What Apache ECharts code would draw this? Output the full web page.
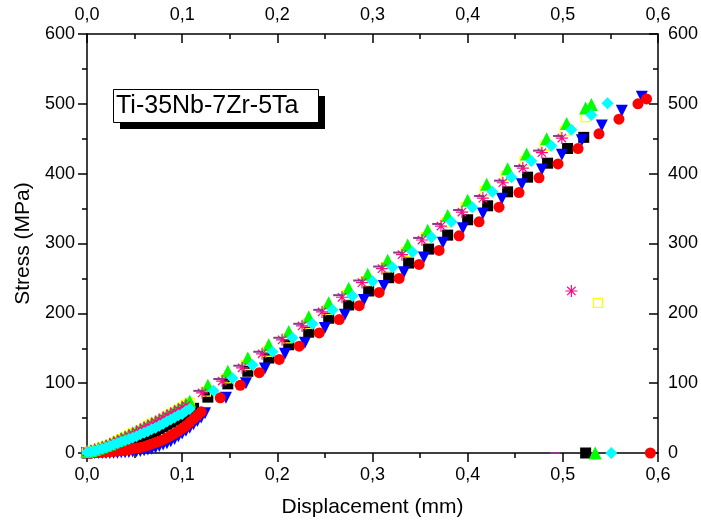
<!DOCTYPE html>
<html><head><meta charset="utf-8">
<script src="https://cdn.jsdelivr.net/npm/echarts@6/dist/echarts.min.js"></script>
<style>html,body{margin:0;padding:0;background:#fff}#c{width:701px;height:523px}</style>
</head><body><div id="c"></div>
<script>
// ---- data ----
const xTickLabels = ['0,0','0,1','0,2','0,3','0,4','0,5','0,6'];
const yTickLabels = ['0','100','200','300','400','500','600'];
const denseX = [0,0.004,0.008,0.012,0.016,0.020,0.024,0.028,0.032,0.036,0.040,0.044,0.048,0.052,0.056,0.060,0.064,0.068,0.072,0.076,0.080,0.084,0.088,0.092,0.096,0.100,0.104,0.108,0.112,0.116,0.120,0.124];

const blackDenseY = [0,1,1.5,2,3,4,6,7,9,11,13,15,17,19,22,24,27,29,32,35,38,41,44,47,50,53,56,60,64];
const blackSparse = [[0.127,80],[0.148,99],[0.169,117],[0.191,136],[0.212,155],[0.233,173],[0.254,193],[0.275,212],[0.296,232],[0.317,251],[0.338,272],[0.359,292],[0.379,312],[0.400,334],[0.421,354],[0.442,374],[0.463,395],[0.484,415],[0.505,436],[0.522,452]];
const blackFail = [[0.524,0]];

const redDenseY = [0,0,0.5,1,1,1.5,2,2.5,3,3.5,4,5,6,7,8,9,11,13,15,17,19,22,25,28,31,35,39,44,49,54,59];
const redSparse = [[0.140,79],[0.161,97],[0.181,115],[0.202,134],[0.223,153],[0.244,172],[0.265,191],[0.286,211],[0.307,230],[0.328,250],[0.349,270],[0.370,290],[0.391,311],[0.412,331],[0.433,352],[0.454,373],[0.475,394],[0.495,414],[0.516,436],[0.538,457],[0.559,478],[0.579,500],[0.588,507]];
const redFail = [[0.592,0]];

const blueDenseY = [0,0,0,0,0,0,0,0.5,0.5,1,1,1.5,2,2.5,3,4,5,6,8,10,12,14,17,20,24,28,32,36,41,46,51,57];
const blueSparse = [[0.146,79],[0.167,100],[0.187,121],[0.208,142],[0.229,158],[0.250,179],[0.271,198],[0.291,219],[0.312,239],[0.333,259],[0.354,280],[0.374,301],[0.395,322],[0.416,343],[0.436,364],[0.457,385],[0.478,406],[0.499,427],[0.520,448],[0.541,469],[0.562,490],[0.583,510]];

const greenDenseY = [2,3.5,5,7,9,11,13,16,18,21,23,26,29,31,34,37,40,43,45,48,51,54,57,60,63,66,70,74];
const greenSparse = [[0.127,97],[0.148,117],[0.169,136],[0.191,155],[0.212,174],[0.233,195],[0.254,215],[0.275,236],[0.295,256],[0.316,276],[0.337,298],[0.358,319],[0.379,340],[0.400,362],[0.420,385],[0.442,407],[0.462,428],[0.483,450],[0.504,472],[0.524,494],[0.530,499]];
const greenFail = [[0.534,0]];

const yellowDenseY = [1,3,4,6,8,10,12,15,17,20,22,25,28,30,33,36,39,42,44,47,50,53,56,59,62,65,69,72];
const yellowSparse = [[0.125,88],[0.146,107],[0.167,126],[0.189,145],[0.210,164],[0.231,185],[0.252,205],[0.273,226],[0.293,246],[0.314,266],[0.335,288],[0.356,309],[0.377,330],[0.398,352],[0.418,375],[0.440,397],[0.460,418],[0.481,440],[0.502,461],[0.524,481]];
const yellowFail = [[0.537,215]];

const magentaDenseY = [2,3,5,6,8,10,12,15,17,20,22,25,27,30,33,36,38,41,44,47,50,53,56,59,62,65,68];
const magentaSparse = [[0.121,86],[0.142,103],[0.163,122],[0.184,142],[0.205,162],[0.226,182],[0.247,202],[0.268,223],[0.289,244],[0.310,264],[0.331,284],[0.352,305],[0.372,325],[0.394,345],[0.416,365],[0.437,387],[0.458,408],[0.478,430],[0.499,451]];
const magentaFail = [[0.509,232]];

const purpleSparse = [[0.117,89],[0.138,106],[0.159,125],[0.180,145],[0.201,165],[0.222,185],[0.243,205],[0.264,226],[0.285,247],[0.306,267],[0.327,287],[0.348,308],[0.368,328],[0.390,348],[0.412,368],[0.433,390],[0.454,411],[0.474,433],[0.495,454]];
const purpleFail = [[0.492,0]];

const cyanDenseY = [1,2,3,5,6,8,10,12,14,16,18,20,22,24,27,29,31,34,36,39,42,45,48,51,54,56,60,63];
const cyanSparse = [[0.133,89],[0.153,107],[0.174,126],[0.195,145],[0.216,165],[0.237,185],[0.258,205],[0.279,225],[0.300,246],[0.321,266],[0.342,288],[0.362,309],[0.383,331],[0.405,352],[0.426,374],[0.446,395],[0.467,418],[0.488,440],[0.509,463],[0.530,484],[0.547,501]];
const cyanFail = [[0.551,0]];

// ---- build ----
function build(denseY, sparse, fail) {
  const d = (denseY || []).map((y, i) => [denseX[i], y]);
  return d.concat(sparse || [], fail || []);
}
const FONT = '"Liberation Sans", Arial, sans-serif';
const chart = echarts.init(document.getElementById('c'), null, {renderer: 'canvas'});
const axisLine = {show: true, onZero: false, lineStyle: {color: '#000', width: 1.5}};
const lbl = {color: '#000', fontSize: 18, fontFamily: FONT};
const star = 'path://M5,0L5,10M0,5L10,5M1.5,1.5L8.5,8.5M8.5,1.5L1.5,8.5';
function sc(name, data, symbol, size, style, extra) {
  return Object.assign({
    name, type: 'scatter', data, symbol, symbolSize: size,
    itemStyle: Object.assign({opacity: 1}, style), emphasis: {disabled: true}, animation: false,
    xAxisIndex: 0, yAxisIndex: 0
  }, extra || {});
}
chart.setOption({
  animation: false,
  grid: {left: 87, right: 42, top: 34, bottom: 70},
  xAxis: [
    {type: 'value', position: 'bottom', min: 0, max: 0.6, interval: 0.1,
     axisLine, splitLine: {show: false},
     axisTick: {show: true, inside: false, length: 9, lineStyle: {color: '#000', width: 1.5}},
     minorTick: {show: true, splitNumber: 2, length: 5, lineStyle: {color: '#000', width: 1.5}},
     axisLabel: Object.assign({margin: 13, formatter: v => xTickLabels[Math.round(v * 10)]}, lbl),
     name: 'Displacement (mm)', nameLocation: 'middle', nameGap: 44,
     nameTextStyle: {color: '#000', fontSize: 21, fontFamily: FONT}},
    {type: 'value', position: 'top', min: 0, max: 0.6, interval: 0.1,
     axisLine, splitLine: {show: false},
     axisTick: {show: true, inside: true, length: 9, lineStyle: {color: '#000', width: 1.5}},
     minorTick: {show: true, splitNumber: 2, length: 5, lineStyle: {color: '#000', width: 1.5}},
     axisLabel: Object.assign({margin: 10, formatter: v => xTickLabels[Math.round(v * 10)]}, lbl)}
  ],
  yAxis: [
    {type: 'value', position: 'left', min: 0, max: 600, interval: 100,
     axisLine, splitLine: {show: false},
     axisTick: {show: true, inside: false, length: 9, lineStyle: {color: '#000', width: 1.5}},
     minorTick: {show: true, splitNumber: 2, length: 5, lineStyle: {color: '#000', width: 1.5}},
     axisLabel: Object.assign({margin: 12, formatter: v => yTickLabels[Math.round(v / 100)]}, lbl),
     name: 'Stress (MPa)', nameLocation: 'middle', nameGap: 51,
     nameTextStyle: {color: '#000', fontSize: 21, fontFamily: FONT}},
    {type: 'value', position: 'right', min: 0, max: 600, interval: 100,
     axisLine, splitLine: {show: false},
     axisTick: {show: true, inside: true, length: 9, lineStyle: {color: '#000', width: 1.5}},
     minorTick: {show: true, splitNumber: 2, length: 5, lineStyle: {color: '#000', width: 1.5}},
     axisLabel: Object.assign({margin: 10, formatter: v => yTickLabels[Math.round(v / 100)]}, lbl)}
  ],
  series: [
    sc('black', build(blackDenseY, blackSparse, blackFail), 'rect', 11, {color: '#000000'}),
    sc('blue', build(blueDenseY, blueSparse, null), 'triangle', 12, {color: '#0000ff'}, {symbolRotate: 180}),
    sc('red', build(redDenseY, redSparse, redFail), 'circle', 11, {color: '#ff0000'}),
    sc('yellow', build(yellowDenseY, yellowSparse, yellowFail), 'rect', 9, {color: 'rgba(255,255,255,0)', borderColor: '#ffff00', borderWidth: 1.3}),
    sc('green', build(greenDenseY, greenSparse, greenFail), 'triangle', 13, {color: '#00ff00'}),
    sc('magenta', build(magentaDenseY, magentaSparse, magentaFail), star, 12, {color: '#ff0a84', borderColor: '#ff0a84', borderWidth: 1.2}),
    sc('purple', build(null, purpleSparse, purpleFail), 'rect', [10, 2], {color: '#8a3a8a'}),
    sc('cyan', build(cyanDenseY, cyanSparse, cyanFail), 'diamond', 12, {color: '#00ffff'})
  ],
  graphic: [
    {type: 'rect', left: 120, top: 96, shape: {width: 205, height: 33}, style: {fill: '#000'}, z: 100},
    {type: 'rect', left: 113, top: 89, shape: {width: 205, height: 33}, style: {fill: '#fff', stroke: '#000', lineWidth: 1}, z: 101},
    {type: 'text', left: 116, top: 94, style: {text: 'Ti-35Nb-7Zr-5Ta', fill: '#000', font: '25px ' + FONT}, z: 102}
  ]
});
</script></body></html>
